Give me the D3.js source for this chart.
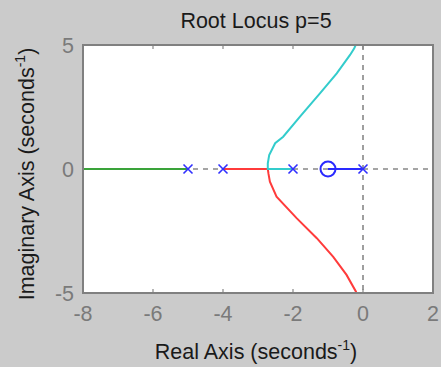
<!DOCTYPE html>
<html>
<head>
<meta charset="utf-8">
<script src="https://cdn.jsdelivr.net/npm/d3@7"></script>
<style>
  html, body { margin: 0; padding: 0; background: #cbcbcb; }
  svg { display: block; font-family: "Liberation Sans", Arial, sans-serif; }
</style>
</head>
<body>
<svg id="chart"></svg>
<script>
// open-loop poles and zeros
const poles = [-5, -4, -2, 0];
const zeros = [-1];

// locus branches: [real, imag]
const greenBranch = [[-8, 0], [-5, 0]];
const blueBranch = [[-1, 0], [0, 0]];
const redBranch = [[-4, 0], [-2.72, 0], [-2.7, -0.2], [-2.66, -0.51], [-2.47, -1.12], [-1.89, -1.99],
                   [-1.32, -2.79], [-0.85, -3.54], [-0.47, -4.27], [-0.2, -4.95], [-0.19, -5]];
const cyanBranch = [[-2, 0], [-2.72, 0], [-2.72, 0.23], [-2.68, 0.56], [-2.51, 1.04], [-2.28, 1.3],
                    [-1.8, 2.11], [-1.23, 3.05], [-0.75, 3.86], [-0.37, 4.6], [-0.25, 4.87], [-0.21, 5]];

const xTicks = [-8, -6, -4, -2, 0, 2];
const yTicks = [-5, 0, 5];

const width = 441;
const height = 367;
const margin = {top: 45, right: 8, bottom: 74, left: 83};
const fontSize = 21.5;

const svg = d3.select('#chart')
    .attr('width', width)
    .attr('height', height);

const x = d3.scaleLinear().domain([-8, 2]).range([margin.left, width - margin.right]);
const y = d3.scaleLinear().domain([-5, 5]).range([height - margin.bottom, margin.top]);

svg.append('rect')
    .attr('width', width).attr('height', height)
    .attr('fill', '#cbcbcb');

svg.append('defs').append('clipPath').attr('id', 'clip')
  .append('rect')
    .attr('x', x(-8)).attr('y', y(5))
    .attr('width', x(2) - x(-8)).attr('height', y(-5) - y(5));

svg.append('rect')
    .attr('x', x(-8)).attr('y', y(5))
    .attr('width', x(2) - x(-8)).attr('height', y(-5) - y(5))
    .attr('fill', '#fff');

const plot = svg.append('g').attr('clip-path', 'url(#clip)');

// dashed axes through origin
plot.append('line')
    .attr('x1', x(-8)).attr('x2', x(2)).attr('y1', y(0)).attr('y2', y(0))
    .attr('stroke', '#888').attr('stroke-width', 1.6).attr('stroke-dasharray', '5,5');
plot.append('line')
    .attr('x1', x(0)).attr('x2', x(0)).attr('y1', y(5)).attr('y2', y(-5))
    .attr('stroke', '#888').attr('stroke-width', 1.6).attr('stroke-dasharray', '5,5');

const line = d3.line().x(d => x(d[0])).y(d => y(d[1]));

const branches = [
    {pts: greenBranch, color: '#3aa33a'},
    {pts: blueBranch, color: '#2a2aff'},
    {pts: redBranch, color: '#ff3b3b'},
    {pts: cyanBranch, color: '#33cccc'}
];
plot.selectAll('.branch')
    .data(branches)
    .enter().append('path')
    .attr('class', 'branch')
    .attr('d', d => line(d.pts))
    .attr('fill', 'none')
    .attr('stroke', d => d.color)
    .attr('stroke-width', 2);

// pole crosses
const s = 4.5;
plot.selectAll('.pole')
    .data(poles)
    .enter().append('path')
    .attr('class', 'pole')
    .attr('d', d => `M${x(d) - s},${y(0) - s}L${x(d) + s},${y(0) + s}M${x(d) - s},${y(0) + s}L${x(d) + s},${y(0) - s}`)
    .attr('stroke', '#3030ff').attr('stroke-width', 1.6).attr('fill', 'none');

plot.selectAll('.zero')
    .data(zeros)
    .enter().append('circle')
    .attr('cx', d => x(d)).attr('cy', y(0)).attr('r', 7.5)
    .attr('stroke', '#2a2aff').attr('stroke-width', 2).attr('fill', 'none');

// small inside ticks
const tickG = svg.append('g').attr('stroke', '#888').attr('stroke-width', 1.2);
xTicks.slice(1, -1).forEach(t => {
    tickG.append('line').attr('x1', x(t)).attr('x2', x(t)).attr('y1', y(5)).attr('y2', y(5) + 4);
    tickG.append('line').attr('x1', x(t)).attr('x2', x(t)).attr('y1', y(-5)).attr('y2', y(-5) - 4);
});

// frame
svg.append('rect')
    .attr('x', x(-8)).attr('y', y(5))
    .attr('width', x(2) - x(-8)).attr('height', y(-5) - y(5))
    .attr('fill', 'none').attr('stroke', '#808080').attr('stroke-width', 2);

// tick labels
svg.selectAll('.xlab')
    .data(xTicks)
    .enter().append('text')
    .attr('x', d => x(d)).attr('y', 321)
    .attr('text-anchor', 'middle')
    .attr('font-size', fontSize).attr('fill', '#7a7a7a')
    .text(d => d);

svg.selectAll('.ylab')
    .data(yTicks)
    .enter().append('text')
    .attr('x', 74).attr('y', d => y(d) + 7.5)
    .attr('text-anchor', 'end')
    .attr('font-size', fontSize).attr('fill', '#7a7a7a')
    .text(d => d);

// title and axis labels
svg.append('text')
    .attr('x', 256).attr('y', 28)
    .attr('text-anchor', 'middle').attr('font-size', fontSize).attr('fill', '#1a1a1a')
    .text('Root Locus p=5');

const xl = svg.append('text')
    .attr('x', 256).attr('y', 359)
    .attr('text-anchor', 'middle').attr('font-size', fontSize).attr('fill', '#1a1a1a');
xl.append('tspan').text('Real Axis (seconds');
xl.append('tspan').attr('font-size', 14).attr('dy', -9).text('-1');
xl.append('tspan').attr('dy', 9).text(')');

const yl = svg.append('text')
    .attr('transform', 'translate(34,174) rotate(-90)')
    .attr('text-anchor', 'middle').attr('font-size', fontSize).attr('fill', '#1a1a1a');
yl.append('tspan').text('Imaginary Axis (seconds');
yl.append('tspan').attr('font-size', 14).attr('dy', -9).text('-1');
yl.append('tspan').attr('dy', 9).text(')');
</script>
</body>
</html>
